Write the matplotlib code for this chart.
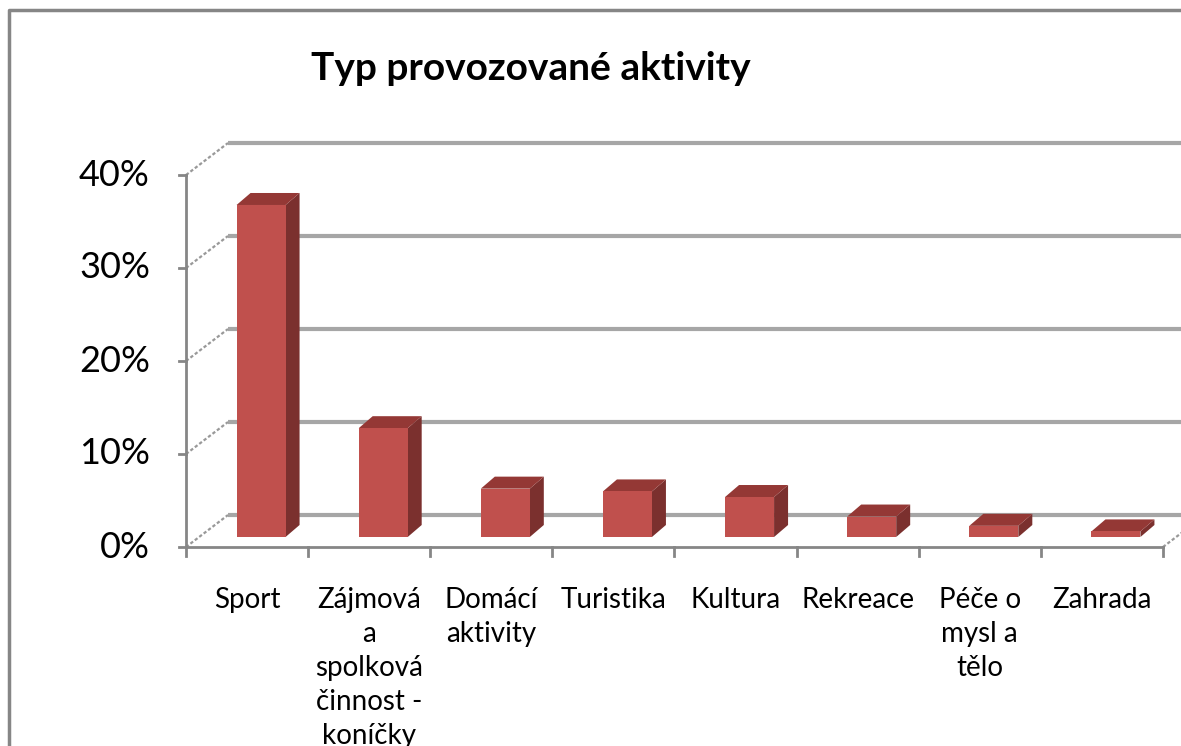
import matplotlib
matplotlib.use("Agg")
import matplotlib.pyplot as plt
from matplotlib.patches import Polygon
from matplotlib.lines import Line2D

# data (percent)
categories = ["Sport", "Zájmová\na\nspolková\nčinnost -\nkoníčky", "Domácí\naktivity",
              "Turistika", "Kultura", "Rekreace", "Péče o\nmysl a\ntělo", "Zahrada"]
values = [35.7, 11.7, 5.2, 4.9, 4.3, 2.2, 1.2, 0.6]
y_ticks = [0, 10, 20, 30, 40]
y_tick_labels = ["0%", "10%", "20%", "30%", "40%"]
title = "Typ provozované aktivity"

plt.rcParams['font.family'] = ['Lato', 'DejaVu Sans']

W, H = 1181, 746
fig = plt.figure(figsize=(W / 100, H / 100), dpi=100)
ax = fig.add_axes([0, 0, 1, 1])
ax.axis('off')

# pixel -> data mapping: front axis x from 186px to 1163px, 0% at 547px, 10% = 93px
px_cat = (1163 - 186) / len(categories)
px_pct = 9.3
ax.set_xlim(-0.5 - 186 / px_cat, -0.5 + (W - 186) / px_cat)
ax.set_ylim(-(H - 547) / px_pct, 547 / px_pct)

# oblique depth (full floor depth) and bar placement
depth_x, depth_y = 42 / px_cat, 32 / px_pct
front_dx, front_dy = 14 / px_cat, 10 / px_pct
bar_dx, bar_dy = 14 / px_cat, 12 / px_pct
bar_w = 49 / px_cat
n = len(categories)
x_left, x_right = -0.5, n - 0.5

grid_col = "#A6A6A6"
axis_col = "#868686"

# back wall gridlines and side-wall diagonals
for t in y_ticks:
    ax.plot([x_left + depth_x, x_right + 2], [t + depth_y, t + depth_y],
            color=grid_col, lw=3, solid_capstyle='butt', zorder=1)
    ax.plot([x_left, x_left + depth_x], [t, t + depth_y],
            color="#999999", lw=1.6, ls=(0, (1.5, 1)), zorder=1)
# right floor edge diagonal
ax.plot([x_right, x_right + depth_x], [0, depth_y], color="#999999", lw=1.6,
        ls=(0, (1.5, 1)), zorder=1)

# front axes
ax.plot([x_left, x_left], [0, y_ticks[-1]], color=axis_col, lw=2, zorder=3)
ax.plot([x_left, x_right], [0, 0], color=axis_col, lw=2, zorder=3)
tick_len_x = 7 / px_cat
for t, lab in zip(y_ticks, y_tick_labels):
    ax.plot([x_left - tick_len_x, x_left], [t, t], color=axis_col, lw=2, zorder=3)
    ax.text(x_left - 36 / px_cat, t, lab, ha='right', va='center', fontsize=26,
            color="#000000")
tick_len_y = 9 / px_pct
for i in range(n + 1):
    ax.plot([x_left + i, x_left + i], [0, -tick_len_y], color=axis_col, lw=2, zorder=3)

# 3D bars
front_col, top_col, side_col = "#C0504D", "#943835", "#7B302E"
for i, v in enumerate(values):
    x0 = i - bar_w / 2 + front_dx
    x1 = x0 + bar_w
    y0 = front_dy
    y1 = y0 + v
    ax.add_patch(Polygon([(x1, y0), (x1 + bar_dx, y0 + bar_dy), (x1 + bar_dx, y1 + bar_dy),
                          (x1, y1)], closed=True, fc=side_col, ec='none', zorder=4))
    ax.add_patch(Polygon([(x0, y1), (x1, y1), (x1 + bar_dx, y1 + bar_dy),
                          (x0 + bar_dx, y1 + bar_dy)], closed=True, fc=top_col, ec='none', zorder=4))
    ax.add_patch(Polygon([(x0, y0), (x1, y0), (x1, y1), (x0, y1)], closed=True,
                         fc=front_col, ec='none', zorder=5))

# category labels
for i, lab in enumerate(categories):
    ax.text(i, -(587 - 547) / px_pct, lab, ha='center', va='top', fontsize=20,
            linespacing=1.38, multialignment='center')

fig.text(531 / W, 1 - 68 / H, title, ha='center', va='center', fontsize=28,
         fontweight='bold')

# chart area border (cut off on the right and bottom)
fig.add_artist(Line2D([9 / W, 9 / W, 1.1], [-0.1, 1 - 10 / H, 1 - 10 / H],
                      transform=fig.transFigure, color=axis_col, lw=2.5))

fig.savefig("out.png", dpi=100)
